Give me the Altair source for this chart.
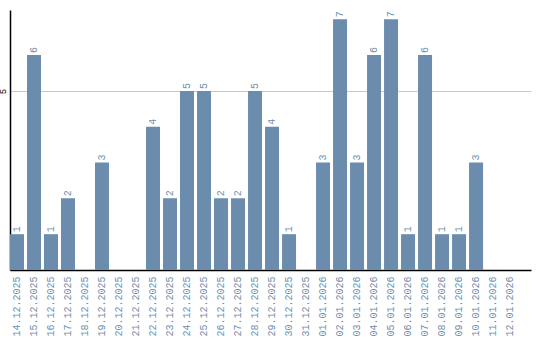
import altair as alt
import pandas as pd

dates = ["14.12.2025", "15.12.2025", "16.12.2025", "17.12.2025", "18.12.2025",
         "19.12.2025", "20.12.2025", "21.12.2025", "22.12.2025", "23.12.2025",
         "24.12.2025", "25.12.2025", "26.12.2025", "27.12.2025", "28.12.2025",
         "29.12.2025", "30.12.2025", "31.12.2025", "01.01.2026", "02.01.2026",
         "03.01.2026", "04.01.2026", "05.01.2026", "06.01.2026", "07.01.2026",
         "08.01.2026", "09.01.2026", "10.01.2026", "11.01.2026", "12.01.2026"]
counts = [1, 6, 1, 2, 0, 3, 0, 0, 4, 2, 5, 5, 2, 2, 5, 4, 1, 0, 3, 7,
          3, 6, 7, 1, 6, 1, 1, 3, 0, 0]

df = pd.DataFrame({"date": dates, "count": counts})

BAR = "#6b8cad"
FONT = "Liberation Mono"

x = alt.X("date:N", sort=None, title=None,
          scale=alt.Scale(paddingInner=0.1765, paddingOuter=0.41, align=0),
          axis=alt.Axis(labelAngle=270, labelFont=FONT, labelFontSize=10,
                        labelColor="#6f8fb0", ticks=False, labelPadding=6,
                        domainColor="black", domainWidth=1.5, grid=False))
y = alt.Y("count:Q", title=None,
          scale=alt.Scale(domain=[0, 7.26], nice=False, zero=True),
          axis=alt.Axis(values=[5], ticks=False, labelAngle=270, labelFont=FONT,
                        labelFontSize=9, labelColor="black", labelPadding=3,
                        domainColor="black", domainWidth=1.5,
                        gridColor="#c8c8c8", gridWidth=1))

bars = alt.Chart(df).mark_bar(color=BAR).encode(x=x, y=y)
text = alt.Chart(df).transform_filter(alt.datum.count > 0).mark_text(
    angle=270, align="left", baseline="middle", dx=2, font=FONT, fontSize=10,
    color="#6f8fb0").encode(x=x, y=y, text="count:Q")

chart = (bars + text).properties(
    width=521, height=260,
    autosize=alt.AutoSizeParams(type="none"),
    padding={"left": 10, "top": 10, "right": 9, "bottom": 70},
).configure_view(stroke=None)

chart.save("out.html", embed_options={"renderer": "svg", "actions": False})
